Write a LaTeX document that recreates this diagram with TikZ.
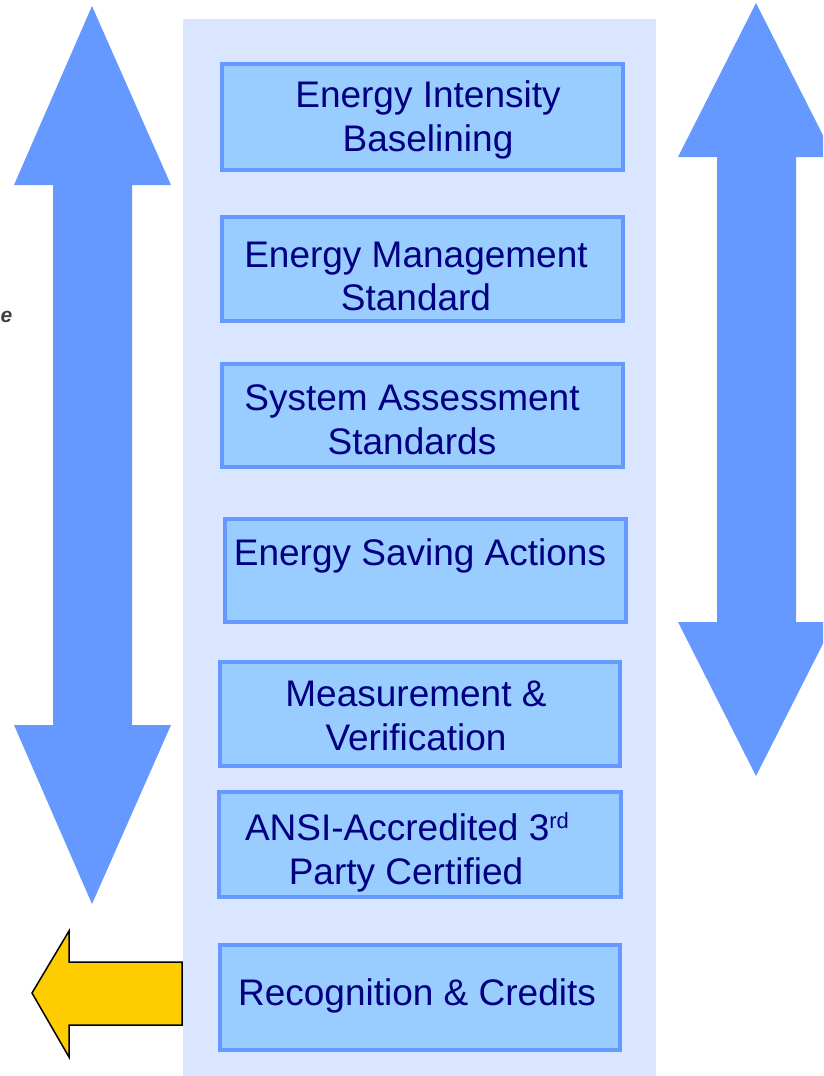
\documentclass[tikz,border=0pt]{standalone}
\usepackage{fontspec}
\setmainfont{Liberation Sans}
\definecolor{panelblue}{HTML}{DAE5FF}
\definecolor{boxfill}{HTML}{99CCFF}
\definecolor{boxline}{HTML}{6699FF}
\definecolor{arrowblue}{HTML}{6699FF}
\definecolor{labelnavy}{HTML}{000080}
\definecolor{goldarrow}{HTML}{FFCC00}
\begin{document}
\begin{tikzpicture}[x=1pt,y=-1pt,
  stagebox/.style={draw=boxline, fill=boxfill, line width=4pt, inner sep=0pt, outer sep=0pt},
  label/.style={anchor=base, inner sep=0pt, text=labelnavy, font=\fontsize{37}{44}\selectfont},
  bigarrow/.style={fill=arrowblue, draw=none}]
\useasboundingbox (0,0) rectangle (823,1076);
\clip (0,0) rectangle (823,1076);

% background column
\fill[panelblue] (183,19) rectangle (656,1076);

% left double-headed arrow
\path[bigarrow] (92,6) -- (171,185) -- (132,185) -- (132,725) -- (171,725)
  -- (92,904) -- (14,725) -- (53,725) -- (53,185) -- (14,185) -- cycle;

% right double-headed arrow (runs past the right edge)
\path[bigarrow] (756,3) -- (834,157) -- (796,157) -- (796,622) -- (834,622)
  -- (756,776) -- (678,622) -- (717,622) -- (717,157) -- (678,157) -- cycle;

% side caption letter at the left edge
\node[anchor=base west, inner sep=0pt, text=black!75,
  font=\fontsize{21}{21}\selectfont\bfseries\itshape] (sidecap) at (0.5,322) {e};

% stage boxes
\node[stagebox, minimum width=401pt, minimum height=106pt] (b1) at (422.5,117) {};
\node[stagebox, minimum width=401pt, minimum height=104pt] (b2) at (422.5,269) {};
\node[stagebox, minimum width=401pt, minimum height=103pt] (b3) at (422.5,415.5) {};
\node[stagebox, minimum width=401pt, minimum height=103pt] (b4) at (425.5,570.5) {};
\node[stagebox, minimum width=400pt, minimum height=104pt] (b5) at (420,714) {};
\node[stagebox, minimum width=402pt, minimum height=105pt] (b6) at (420,844.5) {};
\node[stagebox, minimum width=400pt, minimum height=105pt] (b7) at (420,997.5) {};

% box labels
\node[label] (t1a) at (428,107) {Energy Intensity};
\node[label] (t1b) at (428,151) {Baselining};
\node[label] (t2a) at (416,267) {Energy Management};
\node[label] (t2b) at (416,310) {Standard};
\node[label] (t3a) at (412,410) {System Assessment};
\node[label] (t3b) at (412,454) {Standards};
\node[label] (t4)  at (420,565) {Energy Saving Actions};
\node[label] (t5a) at (416,706) {Measurement \&};
\node[label] (t5b) at (416,750) {Verification};
\node[label] (t6a) at (407,840) {ANSI-Accredited 3\raisebox{12pt}{\fontsize{22}{22}\selectfont rd}};
\node[label] (t6b) at (406,884) {Party Certified};
\node[label] (t7)  at (417,1005) {Recognition \& Credits};

% outgoing recognition arrow
\draw[fill=goldarrow, draw=black, line width=1.5pt, line join=miter]
  (182,962) -- (69,962) -- (69,931) -- (32,993) -- (69,1057) -- (69,1025) -- (182,1025) -- cycle;
\end{tikzpicture}
\end{document}
